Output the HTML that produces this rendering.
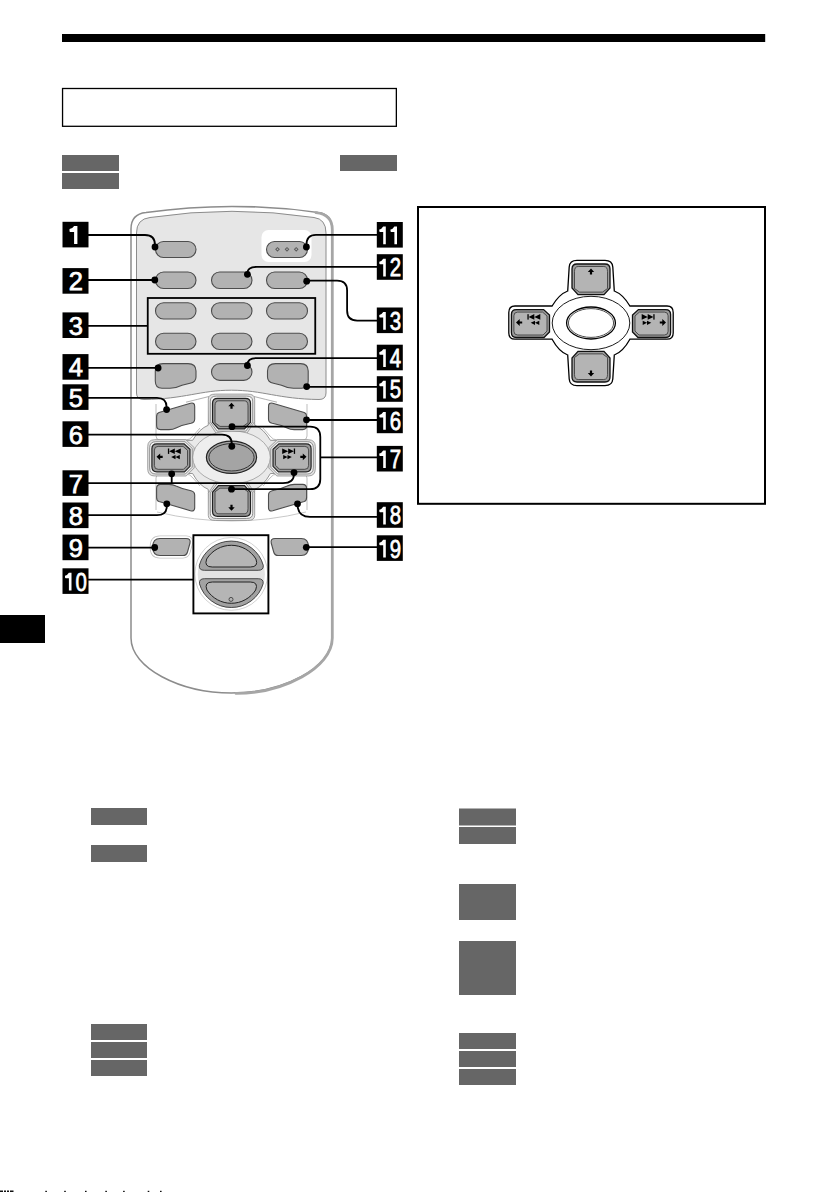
<!DOCTYPE html>
<html><head><meta charset="utf-8"><title>Remote</title>
<style>
html,body{margin:0;padding:0;background:#fff;}
body{width:840px;height:1192px;position:relative;overflow:hidden;font-family:"Liberation Sans",sans-serif;}
svg{position:absolute;left:0;top:0;}
.lb{font-family:"Liberation Sans",sans-serif;font-weight:normal;font-size:25.5px;fill:#fff;stroke:#fff;stroke-width:0.75px;}
</style></head><body>
<svg width="840" height="1192" viewBox="0 0 840 1192">
<!-- page chrome -->
<rect x="62" y="34" width="703.2" height="8" fill="#000"/>
<rect x="62.55" y="88.5" width="333.8" height="37.8" fill="none" stroke="#000" stroke-width="1.3"/>
<g fill="#666">
<rect x="62" y="155" width="57" height="16"/>
<rect x="62" y="173" width="57" height="16"/>
<rect x="340" y="155" width="57" height="16"/>
<rect x="91" y="808" width="56" height="17"/>
<rect x="91" y="845" width="56" height="17"/>
<rect x="91" y="1024" width="56" height="16"/>
<rect x="91" y="1042" width="56" height="16"/>
<rect x="91" y="1060" width="56" height="16"/>
<rect x="459" y="808.5" width="57" height="17"/>
<rect x="459" y="827" width="57" height="17"/>
<rect x="459" y="884" width="57" height="36"/>
<rect x="459" y="941" width="57" height="54"/>
<rect x="459" y="1033" width="57" height="16"/>
<rect x="459" y="1051" width="57" height="16"/>
<rect x="459" y="1069" width="57" height="16"/>
</g>
<rect x="0" y="615" width="45" height="28" fill="#000"/>
<g fill="#111">
<rect x="0" y="1190.5" width="3" height="1.5"/><rect x="4" y="1190.5" width="2" height="1.5"/><rect x="7" y="1190.5" width="2" height="1.5"/><rect x="10" y="1190.5" width="3.5" height="1.5"/>
<rect x="45.3" y="1190.8" width="1.6" height="1.2"/><rect x="64.2" y="1190.8" width="1.6" height="1.2"/><rect x="85" y="1190.8" width="1.6" height="1.2"/>
<rect x="105.3" y="1190.8" width="1.6" height="1.2"/><rect x="123.1" y="1190.8" width="1.6" height="1.2"/><rect x="147.7" y="1190.8" width="1.6" height="1.2"/><rect x="160" y="1190.8" width="1.6" height="1.2"/>
</g>
<rect x="418" y="207" width="347" height="296.8" fill="none" stroke="#000" stroke-width="2"/>
<!-- right dpad -->
<g transform="translate(591,323)">
<path d="M -14,-62.6 L 14,-62.6 Q 21.3,-62.6 21.8,-56 L 23.3,-32 Q 32,-28.7 38.9,-17 L 76,-17 Q 82.2,-17 82.2,-10.5 L 82.2,10 Q 82.2,16.2 76,16.2 L 38.9,16.2 Q 32,28.7 23.3,32 L 21.8,56 Q 21.3,62.6 14,62.6 L -14,62.6 Q -21.3,62.6 -21.8,56 L -23.3,32 Q -32,28.7 -38.9,16.2 L -76,16.2 Q -82.2,16.2 -82.2,10 L -82.2,-10.5 Q -82.2,-17 -76,-17 L -38.9,-17 Q -32,-28.7 -23.3,-32 L -21.8,-56 Q -21.3,-62.6 -14,-62.6 Z" fill="#fff" stroke="#000" stroke-width="1.3"/>
<ellipse cx="0" cy="0" rx="38.8" ry="26.7" fill="none" stroke="#000" stroke-width="0.9"/>
<ellipse cx="0" cy="0" rx="24.4" ry="16" fill="none" stroke="#000" stroke-width="1.3"/>
<ellipse cx="0" cy="0" rx="22.6" ry="14.4" fill="none" stroke="#000" stroke-width="0.7"/>
<g fill="#9c9c9c" stroke="#111" stroke-width="1.3">
<path d="M -14.0,-59 L 14.0,-59 Q 19,-59 19,-54 L 19,-35.0 L 13.0,-28.4 L -13.0,-28.4 L -19,-35.0 L -19,-54 Q -19,-59 -14.0,-59 Z"/>
<path d="M -14.0,59 L 14.0,59 Q 19,59 19,54 L 19,35.0 L 13.0,28.4 L -13.0,28.4 L -19,35.0 L -19,54 Q -19,59 -14.0,59 Z"/>
<path d="M -79.6,-8.5 Q -79.6,-13.4 -74.6,-13.4 L -47.4,-13.4 L -41.5,-8.0 L -41.5,9.0 L -47.0,14.5 L -74.6,14.5 Q -79.6,14.5 -79.6,9.5 Z"/>
<path d="M 79.6,-8.5 Q 79.6,-13.4 74.6,-13.4 L 47.4,-13.4 L 41.5,-8.0 L 41.5,9.0 L 47.0,14.5 L 74.6,14.5 Q 79.6,14.5 79.6,9.5 Z"/>
</g>
<g fill="#b4b4b4" stroke="#333" stroke-width="0.8">
<path d="M -12.75,-56.5 L 12.75,-56.5 Q 16.5,-56.5 16.5,-51.5 L 16.5,-34.5 L 11.5,-30.9 L -11.5,-30.9 L -16.5,-34.5 L -16.5,-51.5 Q -16.5,-56.5 -12.75,-56.5 Z"/>
<path d="M -12.75,56.5 L 12.75,56.5 Q 16.5,56.5 16.5,51.5 L 16.5,34.5 L 11.5,30.9 L -11.5,30.9 L -16.5,34.5 L -16.5,51.5 Q -16.5,56.5 -12.75,56.5 Z"/>
<path d="M -77.1,-7.25 Q -77.1,-10.9 -73.35,-10.9 L -48.4,-10.9 L -44.0,-7.0 L -44.0,8.0 L -48.0,12.0 L -73.35,12.0 Q -77.1,12.0 -77.1,8.25 Z"/>
<path d="M 77.1,-7.25 Q 77.1,-10.9 73.35,-10.9 L 48.4,-10.9 L 44.0,-7.0 L 44.0,8.0 L 48.0,12.0 L 73.35,12.0 Q 77.1,12.0 77.1,8.25 Z"/>
</g>
<g fill="#000">
<path d="M0,-54.5 L3.2,-51 L1.1,-51 L1.1,-48.5 L-1.1,-48.5 L-1.1,-51 L-3.2,-51 Z"/>
<path d="M0,53.5 L3.2,50 L1.1,50 L1.1,47.5 L-1.1,47.5 L-1.1,50 L-3.2,50 Z"/>
<path d="M-75,-0.5 L-71.3,-3.9 L-71.3,-1.6 L-68.8,-1.6 L-68.8,0.6 L-71.3,0.6 L-71.3,2.9 Z"/>
<rect x="-63.6" y="-8.8" width="1.3" height="5.4"/>
<path d="M-62.4,-6.1 L-56.7,-8.9 L-56.7,-3.3 Z M-56.7,-6.1 L-50.7,-8.9 L-50.7,-3.3 Z"/>
<path d="M-60.3,-0.2 L-56,-2.3 L-56,1.9 Z M-56,-0.2 L-51.7,-2.3 L-51.7,1.9 Z"/>
<path d="M75,-0.5 L71.3,-3.9 L71.3,-1.6 L68.8,-1.6 L68.8,0.6 L71.3,0.6 L71.3,2.9 Z"/>
<rect x="62.3" y="-8.8" width="1.3" height="5.4"/>
<path d="M62.4,-6.1 L56.7,-8.9 L56.7,-3.3 Z M56.7,-6.1 L50.7,-8.9 L50.7,-3.3 Z"/>
<path d="M60.3,-0.2 L56,-2.3 L56,1.9 Z M56,-0.2 L51.7,-2.3 L51.7,1.9 Z"/>
</g>
</g>

<!-- REMOTE -->
<g id="remote">
<path d="M131,638 L131,229 Q131,214 146,212.5 Q232,200.3 318,212.5 Q332,214 332,229 L332,638 C332,668 283,693 231.5,693 C180,693 131,668 131,638 Z" fill="#fff" stroke="#8c8c8c" stroke-width="1.5"/>
<path d="M316,212.6 Q332.3,214.3 332.3,229.5 L332.3,638 C332.3,668 283,693.3 236,693.4" fill="none" stroke="#a6a6a6" stroke-width="2.8" stroke-linecap="round"/>
<path d="M136.5,233 Q136.5,219 150,217.5 Q232,205.1 314,217.5 Q326,219 326,233 L326,393 Q326,399.5 319,399.5 C278,399 263,390.2 231.5,390.2 C200,390.2 185,399 144,399.5 Q136.5,399.5 136.5,393 Z" fill="#e6e6e6" stroke="#8c8c8c" stroke-width="1"/>
<rect x="261.5" y="230" width="50" height="32" rx="7" fill="#fff"/>
<g fill="#b2b2b2" stroke="#4d4d4d" stroke-width="1.1">
<rect x="155.5" y="241.5" width="40.5" height="16" rx="8"/>
<rect x="266.5" y="241.5" width="41" height="16" rx="8"/>
<rect x="155.5" y="272" width="40.5" height="16.5" rx="8.2"/>
<rect x="211.5" y="272" width="40.5" height="16.5" rx="8.2"/>
<rect x="266.5" y="272" width="41" height="16.5" rx="8.2"/>
<rect x="155.5" y="302.8" width="40.5" height="16.2" rx="8.1"/>
<rect x="211.5" y="302.8" width="40.5" height="16.2" rx="8.1"/>
<rect x="266.5" y="302.8" width="41" height="16.2" rx="8.1"/>
<rect x="155.5" y="333.3" width="40.5" height="16.2" rx="8.1"/>
<rect x="211.5" y="333.3" width="40.5" height="16.2" rx="8.1"/>
<rect x="266.5" y="333.3" width="41" height="16.2" rx="8.1"/>
<rect x="211.5" y="363.6" width="40.5" height="16.8" rx="8.4"/>
<path d="M163,363.6 L188,363.6 Q196,363.6 196,371 L196,377 Q196,382 190,383.3 L182,385.3 Q176,388.3 170,388.3 L162,388.3 Q155.3,388.3 155.3,381 L155.3,371 Q155.3,363.6 163,363.6 Z"/>
<path d="M300.5,363.6 L275.5,363.6 Q267.5,363.6 267.5,371 L267.5,377 Q267.5,382 273.5,383.3 L281.5,385.3 Q287.5,388.3 293.5,388.3 L301.5,388.3 Q308.2,388.3 308.2,381 L308.2,371 Q308.2,363.6 300.5,363.6 Z"/>
</g>
<g fill="#5a5a5a" stroke="none">
<path d="M277.5,246.9 l2.4,2.4 l-2.4,2.4 l-2.4,-2.4 Z"/>
<path d="M287,246.9 l2.4,2.4 l-2.4,2.4 l-2.4,-2.4 Z"/>
<path d="M296.2,246.9 l2.4,2.4 l-2.4,2.4 l-2.4,-2.4 Z"/>
</g>
<g fill="#bdbdbd">
<circle cx="277.5" cy="249.3" r="0.8"/><circle cx="287" cy="249.3" r="0.8"/><circle cx="296.2" cy="249.3" r="0.8"/>
</g>
<rect x="147.75" y="298" width="167.5" height="55.8" fill="none" stroke="#000" stroke-width="1.8"/>
</g>
<!--LOWER-->
<!-- remote dpad region -->
<path d="M186,402.2 Q197,399.5 209,396.5 M277,402.2 Q266,399.5 254,396.5" fill="none" stroke="#9a9a9a" stroke-width="0.8"/>
<path d="M156,404 L156,436 Q156,440 160,440 L186,440 Q190,440 193,436 L200,428" fill="none" stroke="#a0a0a0" stroke-width="0.7"/>
<path d="M307,404 L307,436 Q307,440 303,440 L277,440 Q273,440 270,436 L263,428" fill="none" stroke="#a0a0a0" stroke-width="0.7"/>
<path d="M156,510 L156,478 Q156,474 160,474 L186,474 Q190,474 193,478 L200,486" fill="none" stroke="#a0a0a0" stroke-width="0.7"/>
<path d="M307,510 L307,478 Q307,474 303,474 L277,474 Q273,474 270,478 L263,486" fill="none" stroke="#a0a0a0" stroke-width="0.7"/>
<path d="M157,512 Q232,530 306,512" fill="none" stroke="#b0b0b0" stroke-width="0.7"/>
<g transform="translate(231.5,457.3)">
<path d="M -14,-62.6 L 14,-62.6 Q 21.3,-62.6 21.8,-56 L 23.3,-32 Q 32,-28.7 38.9,-17 L 76,-17 Q 82.2,-17 82.2,-10.5 L 82.2,10 Q 82.2,16.2 76,16.2 L 38.9,16.2 Q 32,28.7 23.3,32 L 21.8,56 Q 21.3,62.6 14,62.6 L -14,62.6 Q -21.3,62.6 -21.8,56 L -23.3,32 Q -32,28.7 -38.9,16.2 L -76,16.2 Q -82.2,16.2 -82.2,10 L -82.2,-10.5 Q -82.2,-17 -76,-17 L -38.9,-17 Q -32,-28.7 -23.3,-32 L -21.8,-56 Q -21.3,-62.6 -14,-62.6 Z" fill="#e9e9e9" stroke="#8a8a8a" stroke-width="0.9"/>
<g fill="#e2e2e2" stroke="#8f8f8f" stroke-width="0.8">
<path d="M -16.1,-63.2 L 16.1,-63.2 Q 23.2,-63.2 23.2,-58.2 L 23.2,-35.84 L 15.52,-24.2 L -15.52,-24.2 L -23.2,-35.84 L -23.2,-58.2 Q -23.2,-63.2 -16.1,-63.2 Z"/>
<path d="M -16.1,63.2 L 16.1,63.2 Q 23.2,63.2 23.2,58.2 L 23.2,35.84 L 15.52,24.2 L -15.52,24.2 L -23.2,35.84 L -23.2,58.2 Q -23.2,63.2 -16.1,63.2 Z"/>
<path d="M -83.8,-10.6 Q -83.8,-17.6 -76.69999999999999,-17.6 L -45.72,-17.6 L -37.3,-9.68 L -37.3,10.68 L -45.32,18.7 L -76.69999999999999,18.7 Q -83.8,18.7 -83.8,11.6 Z"/>
<path d="M 83.8,-10.6 Q 83.8,-17.6 76.69999999999999,-17.6 L 45.72,-17.6 L 37.3,-9.68 L 37.3,10.68 L 45.32,18.7 L 76.69999999999999,18.7 Q 83.8,18.7 83.8,11.6 Z"/>
</g>
<ellipse cx="0" cy="0" rx="38.8" ry="26.5" fill="#eeeeee" stroke="#9a9a9a" stroke-width="0.8"/>
<g fill="#f4f4f4" stroke="#777" stroke-width="0.8">
<path d="M -15.1,-61.2 L 15.1,-61.2 Q 21.2,-61.2 21.2,-56.2 L 21.2,-35.44 L 14.32,-26.2 L -14.32,-26.2 L -21.2,-35.44 L -21.2,-56.2 Q -21.2,-61.2 -15.1,-61.2 Z"/>
<path d="M -15.1,61.2 L 15.1,61.2 Q 21.2,61.2 21.2,56.2 L 21.2,35.44 L 14.32,26.2 L -14.32,26.2 L -21.2,35.44 L -21.2,56.2 Q -21.2,61.2 -15.1,61.2 Z"/>
<path d="M -81.8,-9.6 Q -81.8,-15.600000000000001 -75.69999999999999,-15.600000000000001 L -46.519999999999996,-15.600000000000001 L -39.3,-8.88 L -39.3,9.88 L -46.12,16.7 L -75.69999999999999,16.7 Q -81.8,16.7 -81.8,10.6 Z"/>
<path d="M 81.8,-9.6 Q 81.8,-15.600000000000001 75.69999999999999,-15.600000000000001 L 46.519999999999996,-15.600000000000001 L 39.3,-8.88 L 39.3,9.88 L 46.12,16.7 L 75.69999999999999,16.7 Q 81.8,16.7 81.8,10.6 Z"/>
</g>
<ellipse cx="0" cy="0" rx="25.1" ry="16.1" fill="#a4a4a4" stroke="#222" stroke-width="1.2"/>
<ellipse cx="0" cy="0" rx="22.6" ry="13.7" fill="none" stroke="#333" stroke-width="1"/>
<g fill="#9a9a9a" stroke="#222" stroke-width="1.2">
<path d="M -14.0,-59 L 14.0,-59 Q 19,-59 19,-54 L 19,-35.0 L 13.0,-28.4 L -13.0,-28.4 L -19,-35.0 L -19,-54 Q -19,-59 -14.0,-59 Z"/>
<path d="M -14.0,59 L 14.0,59 Q 19,59 19,54 L 19,35.0 L 13.0,28.4 L -13.0,28.4 L -19,35.0 L -19,54 Q -19,59 -14.0,59 Z"/>
<path d="M -79.6,-8.5 Q -79.6,-13.4 -74.6,-13.4 L -47.4,-13.4 L -41.5,-8.0 L -41.5,9.0 L -47.0,14.5 L -74.6,14.5 Q -79.6,14.5 -79.6,9.5 Z"/>
<path d="M 79.6,-8.5 Q 79.6,-13.4 74.6,-13.4 L 47.4,-13.4 L 41.5,-8.0 L 41.5,9.0 L 47.0,14.5 L 74.6,14.5 Q 79.6,14.5 79.6,9.5 Z"/>
</g><g fill="#b3b3b3" stroke="#333" stroke-width="0.8">
<path d="M -12.75,-56.5 L 12.75,-56.5 Q 16.5,-56.5 16.5,-51.5 L 16.5,-34.5 L 11.5,-30.9 L -11.5,-30.9 L -16.5,-34.5 L -16.5,-51.5 Q -16.5,-56.5 -12.75,-56.5 Z"/>
<path d="M -12.75,56.5 L 12.75,56.5 Q 16.5,56.5 16.5,51.5 L 16.5,34.5 L 11.5,30.9 L -11.5,30.9 L -16.5,34.5 L -16.5,51.5 Q -16.5,56.5 -12.75,56.5 Z"/>
<path d="M -77.1,-7.25 Q -77.1,-10.9 -73.35,-10.9 L -48.4,-10.9 L -44.0,-7.0 L -44.0,8.0 L -48.0,12.0 L -73.35,12.0 Q -77.1,12.0 -77.1,8.25 Z"/>
<path d="M 77.1,-7.25 Q 77.1,-10.9 73.35,-10.9 L 48.4,-10.9 L 44.0,-7.0 L 44.0,8.0 L 48.0,12.0 L 73.35,12.0 Q 77.1,12.0 77.1,8.25 Z"/>
</g><g fill="#000">
<path d="M0,-54.5 L3.2,-51 L1.1,-51 L1.1,-48.5 L-1.1,-48.5 L-1.1,-51 L-3.2,-51 Z"/>
<path d="M0,53.5 L3.2,50 L1.1,50 L1.1,47.5 L-1.1,47.5 L-1.1,50 L-3.2,50 Z"/>
<path d="M-75,-0.5 L-71.3,-3.9 L-71.3,-1.6 L-68.8,-1.6 L-68.8,0.6 L-71.3,0.6 L-71.3,2.9 Z"/>
<rect x="-63.6" y="-8.8" width="1.3" height="5.4"/>
<path d="M-62.4,-6.1 L-56.7,-8.9 L-56.7,-3.3 Z M-56.7,-6.1 L-50.7,-8.9 L-50.7,-3.3 Z"/>
<path d="M-60.3,-0.2 L-56,-2.3 L-56,1.9 Z M-56,-0.2 L-51.7,-2.3 L-51.7,1.9 Z"/>
<path d="M75,-0.5 L71.3,-3.9 L71.3,-1.6 L68.8,-1.6 L68.8,0.6 L71.3,0.6 L71.3,2.9 Z"/>
<rect x="62.3" y="-8.8" width="1.3" height="5.4"/>
<path d="M62.4,-6.1 L56.7,-8.9 L56.7,-3.3 Z M56.7,-6.1 L50.7,-8.9 L50.7,-3.3 Z"/>
<path d="M60.3,-0.2 L56,-2.3 L56,1.9 Z M56,-0.2 L51.7,-2.3 L51.7,1.9 Z"/>

</g></g>
<g fill="#b2b2b2" stroke="#4d4d4d" stroke-width="1.1">
<path d="M159,412.5 L190.5,403.3 Q194.7,402.2 194.7,406.5 L194.7,419 Q194.7,422.5 191,423.3 Q182,425 176,428 Q173,429.6 169,429.6 L160.5,429.6 Q156.6,429.6 156.6,425.5 L156.6,416.5 Q156.6,413.3 159,412.5 Z"/>
<path d="M159,412.5 L190.5,403.3 Q194.7,402.2 194.7,406.5 L194.7,419 Q194.7,422.5 191,423.3 Q182,425 176,428 Q173,429.6 169,429.6 L160.5,429.6 Q156.6,429.6 156.6,425.5 L156.6,416.5 Q156.6,413.3 159,412.5 Z" transform="translate(463.2,0) scale(-1,1)"/>
<path d="M159,412.5 L190.5,403.3 Q194.7,402.2 194.7,406.5 L194.7,419 Q194.7,422.5 191,423.3 Q182,425 176,428 Q173,429.6 169,429.6 L160.5,429.6 Q156.6,429.6 156.6,425.5 L156.6,416.5 Q156.6,413.3 159,412.5 Z" transform="translate(0,914) scale(1,-1)"/>
<path d="M159,412.5 L190.5,403.3 Q194.7,402.2 194.7,406.5 L194.7,419 Q194.7,422.5 191,423.3 Q182,425 176,428 Q173,429.6 169,429.6 L160.5,429.6 Q156.6,429.6 156.6,425.5 L156.6,416.5 Q156.6,413.3 159,412.5 Z" transform="translate(463.2,914) scale(-1,-1)"/>
</g>
<!--/LOWER-->
<!--REST-->
<path d="M160,538.5 L186,538.5 Q191,538.5 190,543 L187.5,552 Q186.5,555.5 183,555.5 L160,555.5 Q152.7,555.5 152.7,547 Q152.7,538.5 160,538.5 Z" fill="none" stroke="#c4c4c4" stroke-width="6"/>
<path d="M160,538.5 L186,538.5 Q191,538.5 190,543 L187.5,552 Q186.5,555.5 183,555.5 L160,555.5 Q152.7,555.5 152.7,547 Q152.7,538.5 160,538.5 Z" fill="none" stroke="#fff" stroke-width="4.4"/>
<g fill="#b2b2b2" stroke="#4d4d4d" stroke-width="1.1">
<path d="M160,538.5 L186,538.5 Q191,538.5 190,543 L187.5,552 Q186.5,555.5 183,555.5 L160,555.5 Q152.7,555.5 152.7,547 Q152.7,538.5 160,538.5 Z"/>
<path d="M160,538.5 L186,538.5 Q191,538.5 190,543 L187.5,552 Q186.5,555.5 183,555.5 L160,555.5 Q152.7,555.5 152.7,547 Q152.7,538.5 160,538.5 Z" transform="translate(461.2,0) scale(-1,1)"/>
</g>
<circle cx="231.3" cy="573.9" r="36.4" fill="#fff" stroke="#c6c6c6" stroke-width="0.8"/>
<circle cx="231.3" cy="574.3" r="33.6" fill="#e2e2e2"/>
<path d="M 199.34,565.30 A 33.2 33.2 0 0 1 263.26,565.30 Q 263.76,570.3 258.26,570.3 L 204.34,570.3 Q 198.84,570.3 199.34,565.30 Z" fill="#a2a2a2" stroke="#3a3a3a" stroke-width="0.9"/>
<path d="M 199.46,583.70 A 33.2 33.2 0 0 0 263.14,583.70 Q 263.71,578.7 258.21,578.7 L 204.39,578.7 Q 198.89,578.7 199.46,583.70 Z" fill="#a2a2a2" stroke="#3a3a3a" stroke-width="0.9"/>
<path d="M 206.66,559.00 A 29 29 0 0 1 255.94,559.00 Q 258.87,567.0 250.37,567.0 L 212.23,567.0 Q 203.73,567.0 206.66,559.00 Z" fill="#b5b5b5" stroke="#222" stroke-width="1"/>
<path d="M 206.92,590.00 A 29 29 0 0 0 255.68,590.00 Q 258.76,582.0 250.26,582.0 L 212.34,582.0 Q 203.84,582.0 206.92,590.00 Z" fill="#b5b5b5" stroke="#222" stroke-width="1"/>
<circle cx="231" cy="599.4" r="2" fill="none" stroke="#333" stroke-width="0.8"/>
<rect x="193.4" y="535.2" width="75" height="78.2" fill="none" stroke="#000" stroke-width="1.9"/>
<g fill="none" stroke="#000" stroke-width="1.8">
<path d="M88,235 L145,235 Q155,235 155,245"/>
<path d="M88,280 L155,280"/>
<path d="M88,325.8 L147.5,325.8"/>
<path d="M88,367.8 L158,367.8"/>
<path d="M88,397.8 L157,397.8 Q166.6,397.8 166.6,407"/>
<path d="M88,434.6 L222,434.6 Q231.8,434.6 231.8,444"/>
<path d="M88,483.1 L283,483.1 Q294,483.1 294,474"/>
<path d="M171.7,483.1 L171.7,474"/>
<path d="M88,515.2 L157,515.2 Q166.8,515.2 166.8,506"/>
<path d="M88,547.7 L154.7,547.7"/>
<path d="M88,579.6 L193,579.6"/>
<path d="M377,234.9 L316,234.9 Q306.4,234.9 306.4,245"/>
<path d="M377,266.8 L257,266.8 Q247.4,266.8 247.4,273"/>
<path d="M306.7,280.6 L337,280.6 Q347.1,280.6 347.1,290.5 L347.1,310.5 Q347.1,320.6 357.2,320.6 L377,320.6"/>
<path d="M247.4,365 Q247.4,358.1 256,358.1 L377,358.1"/>
<path d="M306.7,386.8 L377,386.8"/>
<path d="M306.5,420 L377,420"/>
<path d="M232,426.7 L310,426.7 Q320.3,426.7 320.3,437 L320.3,479 Q320.3,489.2 310,489.2 L231.5,489.2"/>
<path d="M320.3,457.4 L377,457.4"/>
<path d="M297.5,504 Q297.5,516.9 310,516.9 L377,516.9"/>
<path d="M306.3,547.2 L377,547.2"/>
</g>
<g fill="#000">
<circle cx="155" cy="247" r="3.4"/>
<circle cx="154.8" cy="280" r="3.4"/>
<circle cx="158.1" cy="368" r="3.4"/>
<circle cx="166.6" cy="409.6" r="3.4"/>
<circle cx="231.8" cy="446.3" r="3.4"/>
<circle cx="171.7" cy="473.8" r="3.4"/>
<circle cx="294" cy="472.6" r="3.4"/>
<circle cx="166.8" cy="503.8" r="3.4"/>
<circle cx="154.7" cy="547.5" r="3.4"/>
<circle cx="306.4" cy="247" r="3.4"/>
<circle cx="247.4" cy="274.3" r="3.4"/>
<circle cx="306.7" cy="281.2" r="3.4"/>
<circle cx="247.4" cy="365.5" r="3.4"/>
<circle cx="306.7" cy="386.6" r="3.4"/>
<circle cx="306.5" cy="419.8" r="3.4"/>
<circle cx="232" cy="426.7" r="3.4"/>
<circle cx="231.5" cy="489.2" r="3.4"/>
<circle cx="297.5" cy="503.8" r="3.4"/>
<circle cx="306.3" cy="547.3" r="3.4"/>
</g>
<g fill="#000">
<rect x="62.5" y="221.8" width="26" height="25.6"/>
<rect x="62.5" y="268.1" width="26" height="25.6"/>
<rect x="62.5" y="312.4" width="26" height="25.6"/>
<rect x="62.5" y="354.1" width="26" height="25.6"/>
<rect x="62.5" y="384.3" width="26" height="25.6"/>
<rect x="62.5" y="421.3" width="26" height="25.6"/>
<rect x="62.5" y="470.3" width="26" height="25.6"/>
<rect x="62.5" y="502.5" width="26" height="25.6"/>
<rect x="62.5" y="534.6" width="26" height="25.6"/>
<rect x="62.5" y="568.3" width="26" height="25.6"/>
<rect x="376.8" y="222" width="26" height="25.6"/>
<rect x="376.8" y="254.2" width="26" height="25.6"/>
<rect x="376.8" y="307.5" width="26" height="25.6"/>
<rect x="376.8" y="344.7" width="26" height="25.6"/>
<rect x="376.8" y="376.2" width="26" height="25.6"/>
<rect x="376.8" y="407.6" width="26" height="25.6"/>
<rect x="376.8" y="445.9" width="26" height="25.6"/>
<rect x="376.8" y="502.2" width="26" height="25.6"/>
<rect x="376.8" y="535.3" width="26" height="25.6"/>
</g>
<g fill="#fff">
<path d="M74.10,226.00 L77.40,226.00 L77.40,244.00 L74.10,244.00 L74.10,231.90 L70.30,231.90 Q69.50,231.90 69.50,230.90 L69.50,229.00 Q72.60,228.60 74.10,226.00 Z"/>
<text class="lb" text-anchor="middle" x="75.8" y="290.3">2</text>
<text class="lb" text-anchor="middle" x="75.8" y="334.6">3</text>
<text class="lb" text-anchor="middle" x="75.8" y="376.3">4</text>
<text class="lb" text-anchor="middle" x="75.8" y="406.5">5</text>
<text class="lb" text-anchor="middle" x="75.8" y="443.5">6</text>
<text class="lb" text-anchor="middle" x="75.8" y="492.5">7</text>
<text class="lb" text-anchor="middle" x="75.8" y="524.7">8</text>
<text class="lb" text-anchor="middle" x="75.8" y="556.8">9</text>
<path d="M68.90,572.80 L71.50,572.80 L71.50,590.50 L68.90,590.50 L68.90,578.30 L65.80,578.30 Q65.00,578.30 65.00,577.30 L65.00,575.80 Q67.40,575.40 68.90,572.80 Z"/>
<text class="lb" text-anchor="middle" transform="translate(81.1,590.5) scale(0.8,1)">0</text>
<path d="M383.20,226.50 L385.80,226.50 L385.80,244.20 L383.20,244.20 L383.20,232.00 L380.10,232.00 Q379.30,232.00 379.30,231.00 L379.30,229.50 Q381.70,229.10 383.20,226.50 Z"/>
<path d="M394.40,226.50 L397.00,226.50 L397.00,244.20 L394.40,244.20 L394.40,232.00 L391.30,232.00 Q390.50,232.00 390.50,231.00 L390.50,229.50 Q392.90,229.10 394.40,226.50 Z"/>
<path d="M383.20,258.70 L385.80,258.70 L385.80,276.40 L383.20,276.40 L383.20,264.20 L380.10,264.20 Q379.30,264.20 379.30,263.20 L379.30,261.70 Q381.70,261.30 383.20,258.70 Z"/>
<text class="lb" text-anchor="middle" transform="translate(395.4,276.4) scale(0.8,1)">2</text>
<path d="M383.20,312.00 L385.80,312.00 L385.80,329.70 L383.20,329.70 L383.20,317.50 L380.10,317.50 Q379.30,317.50 379.30,316.50 L379.30,315.00 Q381.70,314.60 383.20,312.00 Z"/>
<text class="lb" text-anchor="middle" transform="translate(395.4,329.7) scale(0.8,1)">3</text>
<path d="M383.20,349.20 L385.80,349.20 L385.80,366.90 L383.20,366.90 L383.20,354.70 L380.10,354.70 Q379.30,354.70 379.30,353.70 L379.30,352.20 Q381.70,351.80 383.20,349.20 Z"/>
<text class="lb" text-anchor="middle" transform="translate(395.4,366.9) scale(0.8,1)">4</text>
<path d="M383.20,380.70 L385.80,380.70 L385.80,398.40 L383.20,398.40 L383.20,386.20 L380.10,386.20 Q379.30,386.20 379.30,385.20 L379.30,383.70 Q381.70,383.30 383.20,380.70 Z"/>
<text class="lb" text-anchor="middle" transform="translate(395.4,398.4) scale(0.8,1)">5</text>
<path d="M383.20,412.10 L385.80,412.10 L385.80,429.80 L383.20,429.80 L383.20,417.60 L380.10,417.60 Q379.30,417.60 379.30,416.60 L379.30,415.10 Q381.70,414.70 383.20,412.10 Z"/>
<text class="lb" text-anchor="middle" transform="translate(395.4,429.8) scale(0.8,1)">6</text>
<path d="M383.20,450.40 L385.80,450.40 L385.80,468.10 L383.20,468.10 L383.20,455.90 L380.10,455.90 Q379.30,455.90 379.30,454.90 L379.30,453.40 Q381.70,453.00 383.20,450.40 Z"/>
<text class="lb" text-anchor="middle" transform="translate(395.4,468.1) scale(0.8,1)">7</text>
<path d="M383.20,506.70 L385.80,506.70 L385.80,524.40 L383.20,524.40 L383.20,512.20 L380.10,512.20 Q379.30,512.20 379.30,511.20 L379.30,509.70 Q381.70,509.30 383.20,506.70 Z"/>
<text class="lb" text-anchor="middle" transform="translate(395.4,524.4) scale(0.8,1)">8</text>
<path d="M383.20,539.80 L385.80,539.80 L385.80,557.50 L383.20,557.50 L383.20,545.30 L380.10,545.30 Q379.30,545.30 379.30,544.30 L379.30,542.80 Q381.70,542.40 383.20,539.80 Z"/>
<text class="lb" text-anchor="middle" transform="translate(395.4,557.5) scale(0.8,1)">9</text>
</g>
<!--/REST-->

</svg>
</body></html>
